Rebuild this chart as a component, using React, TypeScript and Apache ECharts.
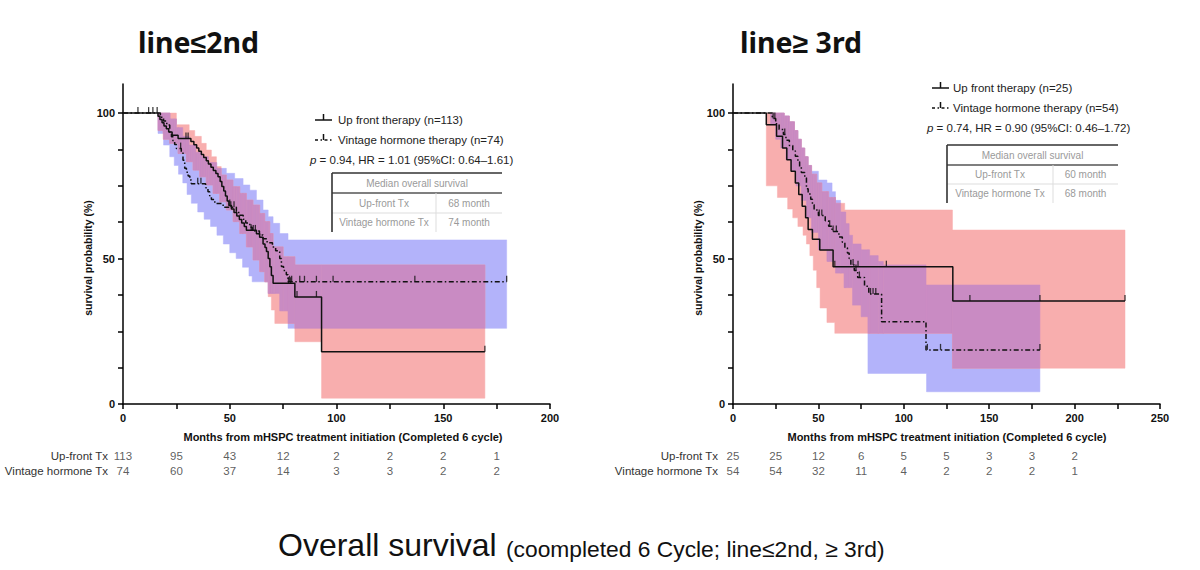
import React, { useEffect, useRef } from "react";
import * as echarts from "echarts";

type P = [number, number];

// ---------- Left panel: line ≤ 2nd ----------
const L_UP: P[] = [[0,100],[16.4,98.9],[17.3,97.8],[18.3,96.7],[19.2,95.6],[20.3,94.6],[21.4,93.5],[23,92.4],[25.8,91.3],[31.8,90.2],[33.2,89.1],[34.5,88],[35.5,86.9],[36.7,85.8],[37.8,84.7],[39,83.6],[40,82.5],[41.2,81.4],[42.3,80.3],[43.5,79.2],[44.5,78.1],[45.5,76.5],[46.3,74.8],[47.2,73.2],[48,71.5],[48.8,69.8],[49.6,68.2],[50.8,67],[52,65.8],[53.3,64.6],[54.5,63.4],[55.6,62.2],[56.8,61],[57.8,59.7],[62.5,58.5],[64,57.3],[65.6,55],[66.5,53.8],[67.2,52.4],[68,50],[68.8,47.2],[69.5,44.2],[70.3,41.5],[80.5,36.8],[93,18],[169.5,18]];
const L_UP_CENSOR = [7,12,29.5,30.5,50,60,77.5,78.5,81.5,90.6,169.5];
const L_VH: P[] = [[0,100],[17.5,98.6],[19,97.3],[20.5,95.9],[21.9,93.2],[22.7,91.9],[23.4,90.5],[24.2,89.2],[25,87.8],[27.3,86.5],[28.1,83.8],[28.9,81],[29.7,79.7],[30.5,78.4],[31.3,77],[32,75.7],[38.7,74.3],[39.8,73],[40.6,71.6],[41.4,70.3],[43,68.9],[46.9,67.6],[53.1,66.2],[54.2,64.9],[56.3,63.5],[57.5,62.2],[59.4,60.8],[60.5,59.5],[63.9,58.1],[65.6,56.8],[67.5,55.4],[70,54],[71.5,52.7],[73.4,50],[74.2,47.3],[75.2,45.9],[76.5,44.4],[77.3,42],[179.7,42]];
const L_VH_CENSOR = [14,16,27,35,36.5,50.5,52,61,62,78,79,82.8,85,90.6,98.4,136.7,179.7];
const L_UP_HI: P[] = [[16.4,100],[25,96],[31,94],[33.6,92],[36.7,89.6],[39,87.3],[41.4,85],[43.75,81.6],[46,78.7],[48.4,77],[51.5,74.7],[54.7,72.4],[57.8,70.1],[60.9,68.4],[64,65.5],[66.4,62.7],[68.75,58.6],[70.3,54],[75,50.6],[80.5,47.8],[169.5,47.8]];
const L_UP_LO: P[] = [[16.4,94],[18.8,91],[21.9,89.6],[25.8,86.1],[29.7,83.3],[32.8,80.4],[35.9,78.1],[39,75.3],[42.2,72.4],[45.3,69.5],[48.4,66.7],[51.6,62.7],[54.7,58.6],[57.8,54],[60.9,49.5],[64,45.5],[66.4,42],[68,36.9],[69.5,32.3],[71.1,27.7],[80.5,21.4],[93,2],[169.5,2]];
const L_VH_HI: P[] = [[16.4,100],[22,98],[25,95],[28,92],[31,89],[34,86.5],[37,85],[40,83],[44,81],[48.4,79.3],[52.3,77.5],[56.25,75.3],[59.4,73.5],[62.5,70.1],[65.6,66.7],[68,64.4],[70.3,62.1],[73.4,58.6],[77.3,56.4],[179.7,56.4]];
const L_VH_LO: P[] = [[16.4,93],[19,89],[21.9,85],[24,82],[26,79],[28,76],[30,72],[32,69],[35,66],[38,63.5],[41,61],[44,58],[47,55],[50,52],[53,50],[56,47],[59,44],[60.5,42],[68,38],[73.4,32],[77.3,26],[179.7,26]];
const L_RISK_TIMES = [0,25,50,75,100,125,150,175];
const L_RISK_UP = [113,95,43,12,2,2,2,1];
const L_RISK_VH = [74,60,37,14,3,3,2,2];

// ---------- Right panel: line ≥ 3rd ----------
const R_UP: P[] = [[0,100],[19.5,96],[25.5,92],[29,88],[31.5,84],[34,80],[36.5,76],[38.5,72],[40.5,68],[42.5,64],[44,60],[46.5,56.6],[50.8,52.9],[58.6,47.2],[128.7,35.4],[229.5,35.4]];
const R_UP_CENSOR = [59.6,73.2,89.8,138.7,179.7,229.5];
const R_VH: P[] = [[0,100],[23,98.1],[25,96.3],[27,94.4],[29.5,92.6],[31,90.7],[33,88.9],[35,87],[36.5,85.2],[38,83.3],[39,81.5],[40,79.6],[42,77.8],[43,74],[44,72.2],[45.5,70.4],[46.5,68.5],[47.5,66.7],[50,64.8],[54,63],[56,61.1],[58,59.3],[62,57.4],[64,55.6],[65.5,53.7],[67,51.9],[68,50],[69,47.8],[71,45.9],[73,43.5],[77,40.5],[79.5,37.8],[87,28.3],[113,18.6],[179.7,18.6]];
const R_VH_CENSOR = [23.5,24.5,30.3,50.5,52,56.6,58.6,60.5,70.3,72,74,80.5,82,83.6,113.8,121.5,179.7];
const R_UP_HI: P[] = [[19.5,100],[30,99],[33,97],[36,94],[38,91],[40,88],[42,85],[44,82],[46,79],[49,76],[52,73],[56,71],[60,69],[65.4,66.7],[128.5,59.8],[229.5,59.8]];
const R_UP_LO: P[] = [[19.5,75],[26,71],[32,67],[35,64],[38,61],[41,58],[43,55],[45,51],[47,46],[49,40],[51,33],[55,28],[59.6,24.3],[128.5,12.3],[229.5,12.3]];
const R_VH_HI: P[] = [[22,100],[30,99],[33,97],[36,94],[38,91],[40,88],[42,85],[44,82],[46,80],[50,77],[55,76],[58,73],[60,70],[63,66],[66,62],[68,58],[70,55],[75,53],[80,51],[85,49],[88,47.8],[113,40.9],[179.7,40.9]];
const R_VH_LO: P[] = [[22,96],[25,91],[28,88],[31,84],[34,80],[37,75],[40,70],[43,64],[46,59],[50,53],[55,49],[60,45],[65,40],[70,34],[75,30],[79,10.5],[113.3,4.2],[179.7,4.2]];
const R_RISK_TIMES = [0,25,50,75,100,125,150,175,200];
const R_RISK_UP = [25,25,12,6,5,5,3,3,2];
const R_RISK_VH = [54,54,32,11,4,2,2,2,1];

const Y_TICKS = [0,12.5,25,37.5,50,62.5,75,87.5,100];
const Y_LABELS = [0,50,100];
const RISK_ROWS = ["Up-front Tx", "Vintage hormone Tx"];

const FONT = '"Liberation Sans", Arial, sans-serif';
const TITLE_FONT = '"Noto Sans", "Liberation Sans", sans-serif';
const PINK = "#F8AEAE";
const BLUE = "#B3B3FA";
const MIX = "#C98BC3";
const LINE = "#111";

function stepValue(curve: P[], m: number) {
  let v = curve[0][1];
  for (const [x, y] of curve) { if (x <= m) v = y; else break; }
  return v;
}
function stepPoints(arr: P[]): P[] {
  const out: P[] = [];
  for (let i = 0; i < arr.length; i++) {
    out.push([arr[i][0], arr[i][1]]);
    if (i < arr.length - 1) out.push([arr[i + 1][0], arr[i][1]]);
  }
  return out;
}
function bandPolygon(hi: P[], lo: P[]): P[] {
  return stepPoints(hi).concat(stepPoints(lo).reverse());
}
// pieces where two step bands overlap: [x0, x1, low, high]
function overlapPieces(h1: P[], l1: P[], h2: P[], l2: P[]) {
  const start = Math.max(h1[0][0], h2[0][0]);
  const end = Math.min(h1[h1.length - 1][0], h2[h2.length - 1][0]);
  const xs = Array.from(new Set([...h1, ...l1, ...h2, ...l2].map((p) => p[0]).concat([start, end])))
    .filter((x) => x >= start && x <= end).sort((a, b) => a - b);
  const out: number[][] = [];
  for (let i = 0; i < xs.length - 1; i++) {
    const mid = (xs[i] + xs[i + 1]) / 2;
    const top = Math.min(stepValue(h1, mid), stepValue(h2, mid));
    const bot = Math.max(stepValue(l1, mid), stepValue(l2, mid));
    if (top > bot) out.push([xs[i], xs[i + 1], bot, top]);
  }
  return out;
}

function bandSeries(axis: number, hi: P[], lo: P[], color: string, z: number) {
  const poly = bandPolygon(hi, lo);
  return {
    type: "custom", xAxisIndex: axis, yAxisIndex: axis, silent: true, z,
    data: [[0, 0]], clip: true,
    renderItem: (_p: any, api: any) => ({
      type: "polygon",
      shape: { points: poly.map((p) => api.coord(p)) },
      style: { fill: color, stroke: color, lineWidth: 0.5 },
    }),
  };
}
function overlapSeries(axis: number, h1: P[], l1: P[], h2: P[], l2: P[], z: number) {
  const pieces = overlapPieces(h1, l1, h2, l2);
  return {
    type: "custom", xAxisIndex: axis, yAxisIndex: axis, silent: true, z,
    data: [[0, 0]], clip: true,
    renderItem: (_p: any, api: any) => ({
      type: "group",
      children: pieces.map(([a, b, lo, hi]) => {
        const p1 = api.coord([a, hi]);
        const p2 = api.coord([b, lo]);
        return {
          type: "rect",
          shape: { x: p1[0], y: p1[1], width: p2[0] - p1[0], height: p2[1] - p1[1] },
          style: { fill: MIX, stroke: MIX, lineWidth: 0.6 },
        };
      }),
    }),
  };
}
function curveSeries(axis: number, data: P[], dashed: boolean) {
  return {
    type: "line", xAxisIndex: axis, yAxisIndex: axis, step: "end", symbol: "none",
    data, z: 5, silent: true,
    lineStyle: { color: LINE, width: 1.5, type: dashed ? [5, 2.5, 1.5, 2.5] : "solid" },
  };
}
function censorSeries(axis: number, curve: P[], times: number[]) {
  return {
    type: "scatter", xAxisIndex: axis, yAxisIndex: axis, symbol: "rect",
    symbolSize: [1.3, 6], symbolOffset: [0, -3], z: 6, silent: true,
    itemStyle: { color: LINE },
    data: times.map((t) => [t, stepValue(curve, t)]),
  };
}
function riskSeries(axis: number, times: number[], row: string, vals: number[]) {
  return {
    type: "scatter", xAxisIndex: axis, yAxisIndex: axis, symbolSize: 1, silent: true,
    itemStyle: { color: "rgba(0,0,0,0)" },
    label: { show: true, position: "inside", formatter: (p: any) => String(p.value[2]), color: "#333", fontSize: 11.5, fontFamily: FONT },
    data: times.map((t, i) => [t, row, vals[i]]),
  };
}
function mainX(grid: number, max: number) {
  return {
    type: "value", gridIndex: grid, min: 0, max, interval: 25,
    axisLine: { show: true, onZero: false, lineStyle: { color: "#000", width: 1.5 } },
    axisTick: { show: true, length: 5, lineStyle: { color: "#000", width: 1.5 } },
    axisLabel: { formatter: (v: number) => (v % 50 === 0 ? String(v) : ""), margin: 8, color: "#111", fontSize: 11, fontWeight: "bold", fontFamily: FONT },
    splitLine: { show: false },
  };
}
function mainY(grid: number) {
  return {
    type: "value", gridIndex: grid, min: 0, max: 110,
    axisLine: { show: true, lineStyle: { color: "#000", width: 1.5 } },
    axisTick: { show: true, length: 5, customValues: Y_TICKS, lineStyle: { color: "#000", width: 1.5 } },
    axisLabel: { customValues: Y_LABELS, margin: 8, color: "#111", fontSize: 11, fontWeight: "bold", fontFamily: FONT },
    splitLine: { show: false },
  };
}
function riskY(grid: number) {
  return {
    type: "category", gridIndex: grid, data: RISK_ROWS, inverse: true,
    axisLine: { show: false }, axisTick: { show: false },
    axisLabel: { interval: 0, margin: 15, color: "#333", fontSize: 11.5, fontFamily: FONT },
  };
}

function txt(text: string, x: number, y: number, o: any = {}) {
  return {
    type: "text", x, y, silent: true, rotation: o.rotation || 0,
    style: {
      text, fill: o.fill || "#222", fontSize: o.fontSize || 11.5, fontFamily: o.fontFamily || FONT,
      fontWeight: o.fontWeight || "normal", align: o.align || "left", verticalAlign: o.verticalAlign || "middle",
      rich: o.rich,
    },
  };
}
function ln(x1: number, y1: number, x2: number, y2: number, stroke = "#333", w = 1, dash?: number[]) {
  return { type: "line", silent: true, shape: { x1, y1, x2, y2 }, style: { stroke, lineWidth: w, lineDash: dash } };
}

function panelGraphics(o: any) {
  const g: any[] = [];
  g.push(ln(o.sx, o.ly1, o.sx + 17, o.ly1, LINE, 1.5));
  g.push(ln(o.sx + 8.5, o.ly1 - 6, o.sx + 8.5, o.ly1, LINE, 1.5));
  g.push(txt(o.leg1, o.tx, o.ly1));
  g.push(ln(o.sx, o.ly2, o.sx + 17, o.ly2, LINE, 1.5, [3, 2.5, 1.5, 2.5]));
  g.push(ln(o.sx + 8.5, o.ly2 - 6, o.sx + 8.5, o.ly2, LINE, 1.5));
  g.push(txt(o.leg2, o.tx, o.ly2));
  g.push(txt(o.pText, o.px, o.ly3, { rich: { i: { fontStyle: "italic", fontSize: 11.5, fontFamily: FONT, fill: "#222" } } }));
  const t = o.tab;
  g.push(ln(t.x1, t.y0, t.x2, t.y0, "#333", 1.6));
  g.push(txt("Median overall survival", (t.x1 + t.x2) / 2, (t.y0 + t.y1) / 2, { fill: "#9a9a9a", fontSize: 10, align: "center" }));
  g.push(ln(t.x1, t.y1, t.x2, t.y1, "#555", 1.6));
  g.push(txt("Up-front Tx", (t.x1 + t.xc) / 2, (t.y1 + t.y2) / 2, { fill: "#9a9a9a", fontSize: 10, align: "center" }));
  g.push(txt(t.m1, (t.xc + t.x2) / 2, (t.y1 + t.y2) / 2, { fill: "#9a9a9a", fontSize: 10, align: "center" }));
  g.push(ln(t.x1, t.y2, t.x2, t.y2, "#ddd", 1));
  g.push(txt("Vintage hormone Tx", (t.x1 + t.xc) / 2, (t.y2 + t.y3) / 2, { fill: "#9a9a9a", fontSize: 10, align: "center" }));
  g.push(txt(t.m2, (t.xc + t.x2) / 2, (t.y2 + t.y3) / 2, { fill: "#9a9a9a", fontSize: 10, align: "center" }));
  g.push(ln(t.x1, t.y0, t.x1, t.y3, "#333", 1.6));
  g.push(ln(t.xc, t.y1, t.xc, t.y3, "#ddd", 1));
  g.push(txt("survival probability (%)", o.yNameX, 258, { rotation: Math.PI / 2, align: "center", fontWeight: "bold", fontSize: 10.5, fill: "#111" }));
  g.push(txt("Months from mHSPC treatment initiation (Completed 6 cycle)", o.xNameX, 437, { align: "center", fontWeight: "bold", fontSize: 11, fill: "#111" }));
  g.push(txt(o.title, o.titleX, 42, { fontSize: 28.5, fontWeight: "bold", fontFamily: TITLE_FONT, fill: "#111" }));
  return g;
}

export default function App() {
  const ref = useRef<HTMLDivElement>(null);
  useEffect(() => {
    if (!ref.current) return;
    const chart = echarts.init(ref.current, null, { renderer: "svg" });
    const graphic: any[] = [
      ...panelGraphics({
        sx: 315, tx: 338, px: 310, ly1: 120, ly2: 140, ly3: 160,
        leg1: "Up front therapy (n=113)", leg2: "Vintage hormone therapy (n=74)",
        pText: "{i|p} = 0.94, HR = 1.01 (95%CI: 0.64\u20131.61)",
        tab: { x1: 332, x2: 502, xc: 436, y0: 173, y1: 193, y2: 213, y3: 232, m1: "68 month", m2: "74 month" },
        yNameX: 88, xNameX: 343, title: "line\u22642nd", titleX: 138,
      }),
      ...panelGraphics({
        sx: 932, tx: 953, px: 927, ly1: 88, ly2: 108, ly3: 128,
        leg1: "Up front therapy (n=25)", leg2: "Vintage hormone therapy (n=54)",
        pText: "{i|p} = 0.74, HR = 0.90 (95%CI: 0.46\u20131.72)",
        tab: { x1: 947, x2: 1118, xc: 1053, y0: 145, y1: 165, y2: 184, y3: 203, m1: "60 month", m2: "68 month" },
        yNameX: 698, xNameX: 947, title: "line\u2265 3rd", titleX: 740,
      }),
      txt("Overall survival", 278, 545, { fontSize: 32, fill: "#111" }),
      txt("(coompleted 6 Cycle; line\u22642nd, \u2265 3rd)", 506, 549, { fontSize: 22.8, fill: "#111" }),
    ];
    chart.setOption({
      animation: false,
      backgroundColor: "#fff",
      grid: [
        { left: 123, top: 84, width: 427, height: 320 },
        { left: 733, top: 84, width: 427, height: 320 },
        { left: 123, top: 448, width: 427, height: 30 },
        { left: 733, top: 448, width: 427, height: 30 },
      ],
      xAxis: [
        mainX(0, 200), mainX(1, 250),
        { type: "value", gridIndex: 2, min: 0, max: 200, show: false },
        { type: "value", gridIndex: 3, min: 0, max: 250, show: false },
      ],
      yAxis: [mainY(0), mainY(1), riskY(2), riskY(3)],
      series: [
        bandSeries(0, L_VH_HI, L_VH_LO, BLUE, 1),
        bandSeries(0, L_UP_HI, L_UP_LO, PINK, 2),
        overlapSeries(0, L_VH_HI, L_VH_LO, L_UP_HI, L_UP_LO, 3),
        curveSeries(0, L_UP, false),
        curveSeries(0, L_VH, true),
        censorSeries(0, L_UP, L_UP_CENSOR),
        censorSeries(0, L_VH, L_VH_CENSOR),
        bandSeries(1, R_VH_HI, R_VH_LO, BLUE, 1),
        bandSeries(1, R_UP_HI, R_UP_LO, PINK, 2),
        overlapSeries(1, R_VH_HI, R_VH_LO, R_UP_HI, R_UP_LO, 3),
        curveSeries(1, R_UP, false),
        curveSeries(1, R_VH, true),
        censorSeries(1, R_UP, R_UP_CENSOR),
        censorSeries(1, R_VH, R_VH_CENSOR),
        riskSeries(2, L_RISK_TIMES, RISK_ROWS[0], L_RISK_UP),
        riskSeries(2, L_RISK_TIMES, RISK_ROWS[1], L_RISK_VH),
        riskSeries(3, R_RISK_TIMES, RISK_ROWS[0], R_RISK_UP),
        riskSeries(3, R_RISK_TIMES, RISK_ROWS[1], R_RISK_VH),
      ],
      graphic,
    });
    return () => chart.dispose();
  }, []);
  return <div ref={ref} style={{ position: "fixed", left: 0, top: 0, width: 1200, height: 570, background: "#fff" }} />;
}
